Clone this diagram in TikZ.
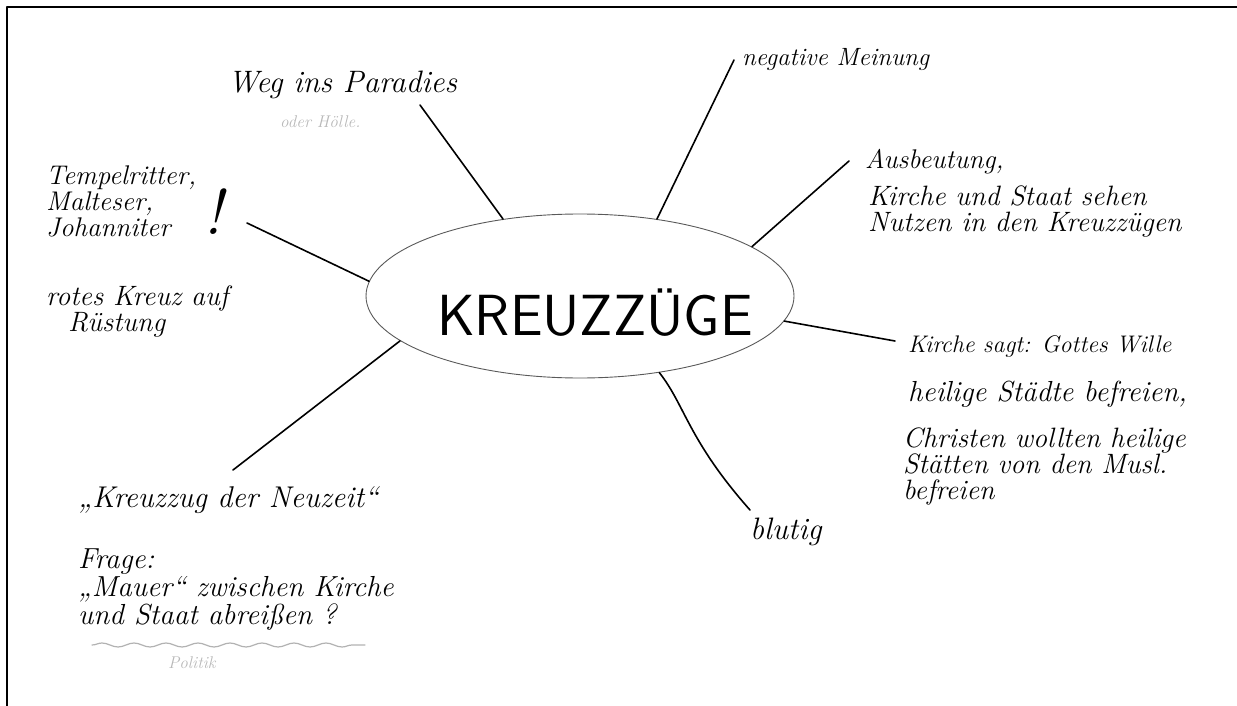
\documentclass[tikz,border=0pt]{standalone}
\usetikzlibrary{shapes.geometric,decorations.pathmorphing}
\begin{document}
\begin{tikzpicture}[x=1pt,y=-1pt,line cap=round,line join=round,
	hand/.style={font=\fontsize{#1}{28}\selectfont\itshape,inner sep=0pt,align=left},
	hand/.default=27,
	faint/.style={hand,font=\fontsize{17}{17}\selectfont\itshape,text=black!28},
	spoke/.style={line width=1.6pt}]
	\useasboundingbox (0,0) rectangle (1237,706);
	% Rahmen
	\draw[line width=2.2pt] (7,706)--(7,7)--(1237,7);
	% Mitte
	\node[draw=black!65,line width=0.9pt,ellipse,minimum width=428pt,minimum height=164pt,inner sep=0pt] (kz) at (580,296) {};
	\node[inner sep=0pt,font=\fontsize{58}{58}\selectfont\sffamily] (kztext) at (595,313) {KREUZZÜGE};
	% Aeste
	\coordinate (wegE) at (420,105);
	\coordinate (meinE) at (734,60);
	\coordinate (ausbE) at (849,161);
	\coordinate (tempE) at (247,223);
	\coordinate (gottE) at (895,341);
	\coordinate (blutE) at (750,510);
	\coordinate (neuE) at (233,470);
	\foreach \a/\e in {135/wegE,45/meinE,16/ausbE,176/tempE,-7/gottE,-166/neuE}
	\draw[spoke] (kz.\a)--(\e);
	\draw[spoke] (kz.-44) .. controls (685,405) and (688,440) .. (blutE);
	% Texte
	\node[hand=31,anchor=west] (weg) at (228,85) {Weg ins Paradies};
	\node[faint,anchor=west] (hoelle) at (280,122) {oder Hölle.};
	\node[hand=25,anchor=west] (meinung) at (742,60) {negative Meinung};
	\node[hand,anchor=west] (ausb) at (865,162) {Ausbeutung,};
	\node[hand=28,anchor=north west] (nutzen) at (868,186) {Kirche und Staat sehen\\[-2pt]Nutzen in den Kreuzzügen};
	\node[hand,anchor=north west] (tempel) at (46,166) {Tempelritter,\\[-2pt]Malteser,\\[-2pt]Johanniter};
	\node[hand=64,anchor=west] (ausruf) at (203,212) {!};
	\node[hand=28,anchor=north west] (ruestung) at (46,286) {rotes Kreuz auf\\[-2pt]\hspace{22pt}Rüstung};
	\node[hand=24,anchor=north west] (gott) at (908,335) {Kirche sagt: Gottes Wille};
	\node[hand=29,anchor=north west] (staedte) at (908,381) {heilige Städte befreien,};
	\node[hand=28,anchor=north west] (christen) at (903,428) {Christen wollten heilige\\[-2pt]Stätten von den Musl.\\[-2pt]befreien};
	\node[hand=31,anchor=west] (blutig) at (750,532) {blutig};
	\node[hand=30,anchor=west] (neuzeit) at (78,500) {„Kreuzzug der Neuzeit“};
	\node[hand=29,anchor=north west] (frage) at (78,549) {Frage:\\„Mauer“ zwischen Kirche\\und Staat abreißen ?};
	\draw[black!30,line width=1.2pt,decorate,decoration={snake,amplitude=2pt,segment length=32pt}] (92,645)--(365,645);
	\node[faint,anchor=west] (politik) at (168,663) {Politik};
\end{tikzpicture}
\end{document}
